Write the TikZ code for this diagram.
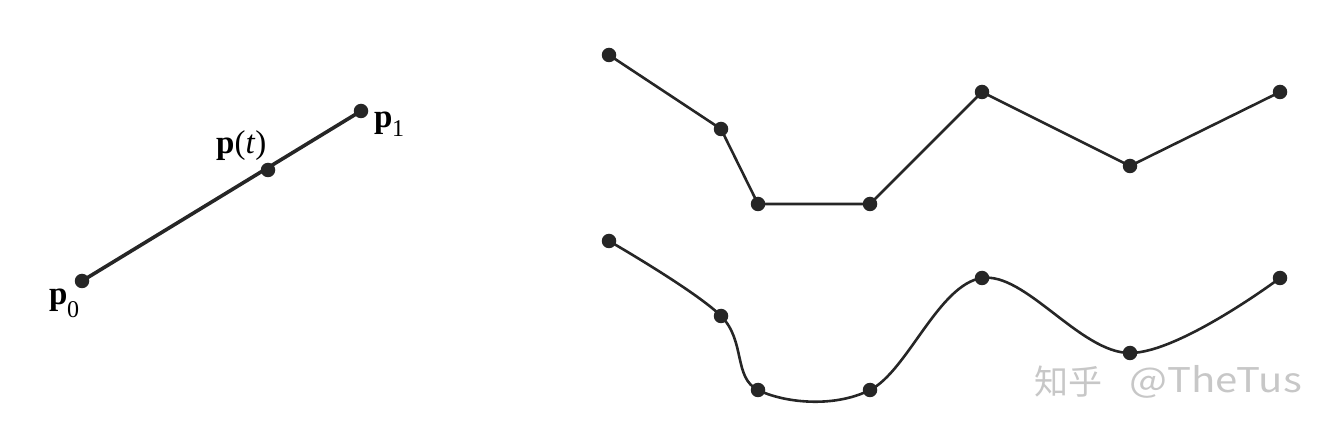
\documentclass[tikz,border=0pt]{standalone}
\usepackage{fontspec}
\setmainfont{Liberation Serif}
\newfontfamily\cjk{Noto Sans CJK SC}
\begin{document}
\begin{tikzpicture}[x=1pt,y=-1pt,
  dot/.style={circle,fill=black!85,inner sep=0pt,minimum size=14.5pt},
  thick line/.style={line width=3.6pt,draw=black!85},
  thin line/.style={line width=2.6pt,draw=black!85},
  lbl/.style={font=\fontsize{33}{36}\selectfont,inner sep=0pt},
  sub/.style={font=\fontsize{24}{26}\selectfont,inner sep=0pt},
  wm/.style={font=\cjk\fontsize{34}{36}\selectfont,text=black!22,inner sep=0pt}]
\useasboundingbox (0,0) rectangle (1334,438);
% left segment
\coordinate (p0) at (82,281);
\coordinate (pt) at (268,170);
\coordinate (p1) at (361,111);
\draw[thick line] (p0) -- (p1);
\foreach \n in {p0,pt,p1} \node[dot] at (\n) {};
\node[lbl,anchor=base west] (l0) at (49,305) {\textbf{p}};
\node[sub,anchor=base west] (s0) at (67,318) {0};
\node[lbl,anchor=base west] (lt) at (216,154) {\textbf{p}(\textit{t})};
\node[lbl,anchor=base west] (l1) at (374,128) {\textbf{p}};
\node[sub,anchor=base west] (s1) at (392,137) {1};
% top polyline
\foreach \i/\x/\y in {1/609/55,2/721/129,3/758/204,4/870/204,5/982/92,6/1130/166,7/1280/92}
  \coordinate (a\i) at (\x,\y);
\draw[thin line] (a1) -- (a2) -- (a3) -- (a4) -- (a5) -- (a6) -- (a7);
\foreach \i in {1,...,7} \node[dot] at (a\i) {};
% bottom smooth curve
\foreach \i/\x/\y in {1/609/241,2/721/316,3/758/390,4/870/390,5/982/278,6/1130/353,7/1280/278}
  \coordinate (b\i) at (\x,\y);
\draw[thin line] plot[smooth,tension=0.6] coordinates {(b1) (b2) (b3) (b4) (b5) (b6) (b7)};
\foreach \i in {1,...,7} \node[dot] at (b\i) {};
% watermark
\node[wm,anchor=west] (w1) at (1034,382) {知乎};
\node[wm,anchor=west] (w2) at (1129,382) {\scalebox{1.18}[1]{@TheTus}};
\end{tikzpicture}
\end{document}
